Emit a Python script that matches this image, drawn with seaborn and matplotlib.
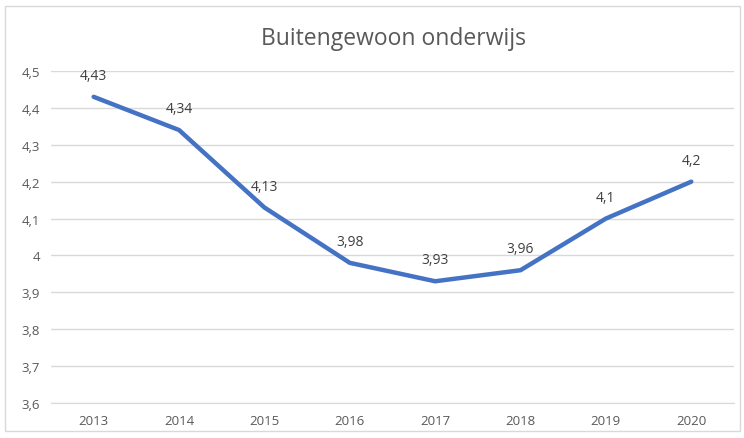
import seaborn as sns
import matplotlib.pyplot as plt
import pandas as pd
from matplotlib.patches import Rectangle

# data
years = ["2013", "2014", "2015", "2016", "2017", "2018", "2019", "2020"]
values = [4.43, 4.34, 4.13, 3.98, 3.93, 3.96, 4.1, 4.2]
labels = ["4,43", "4,34", "4,13", "3,98", "3,93", "3,96", "4,1", "4,2"]
yticks = [3.6, 3.7, 3.8, 3.9, 4.0, 4.1, 4.2, 4.3, 4.4, 4.5]
ytick_labels = ["3,6", "3,7", "3,8", "3,9", "4", "4,1", "4,2", "4,3", "4,4", "4,5"]

df = pd.DataFrame({"year": years, "value": values})

sns.set_style("white")
plt.rcParams['font.family'] = ['Open Sans', 'DejaVu Sans']
text_col = "#595959"

fig = plt.figure(figsize=(7.44, 4.39), dpi=100)
ax = fig.add_axes([0.0685, 0.0797, 0.918, 0.7563])

sns.lineplot(data=df, x="year", y="value", ax=ax, color="#4472C4", linewidth=3.2)

for i, (v, lab) in enumerate(zip(values, labels)):
    ax.annotate(lab, (i, v), xytext=(0, 10), textcoords="offset points",
                ha="center", va="bottom", fontsize=10, color="#404040")

ax.set_xlim(-0.5, len(years) - 0.5)
ax.set_ylim(3.6, 4.5)
ax.set_yticks(yticks)
ax.set_yticklabels(ytick_labels)
ax.grid(axis="y", color="#D9D9D9", linewidth=1)
ax.set_axisbelow(True)
for s in ["top", "right", "left"]:
    ax.spines[s].set_visible(False)
ax.spines["bottom"].set_color("#D9D9D9")
ax.tick_params(axis="both", length=0, labelsize=9.5, colors=text_col, pad=8)
ax.set_xlabel("")
ax.set_ylabel("")

fig.text(0.529, 0.912, "Buitengewoon onderwijs", ha="center", va="center",
         fontsize=16.5, color=text_col)

fig.patches.append(Rectangle((5 / 744, 7 / 439), 735 / 744, 425 / 439,
                             transform=fig.transFigure, fill=False,
                             edgecolor="#D9D9D9", linewidth=1))

fig.savefig("out.png", dpi=100)
